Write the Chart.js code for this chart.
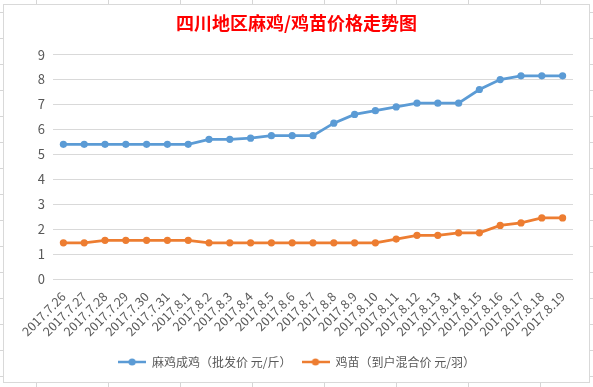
<!DOCTYPE html>
<html>
<head>
<meta charset="utf-8">
<script src="https://cdn.jsdelivr.net/npm/chart.js@4/dist/chart.umd.min.js"></script>
<style>
  html, body { margin: 0; padding: 0; width: 593px; height: 387px; overflow: hidden; }
  body {
    background-color: #fff;
    background-image: linear-gradient(to right, #d6d6d6 1px, transparent 1px),
                      linear-gradient(to bottom, #d6d6d6 1px, transparent 1px);
    background-size: 72px 100%, 100% 26px;
    background-position: 36px 0, 0 12px;
    position: relative;
  }
  #box { position: absolute; left: 3px; top: 4px; width: 585px; height: 377px;
         background: #fff; border: 1px solid #d9d9d9; }
  #wrap { position: absolute; left: 0; top: 0; width: 593px; height: 387px; }
</style>
</head>
<body>
<div id="box"></div>
<div id="wrap"><canvas id="c" width="593" height="387"></canvas></div>
<script>
const titleText = '四川地区麻鸡/鸡苗价格走势图';
const dates = ['2017.7.26','2017.7.27','2017.7.28','2017.7.29','2017.7.30','2017.7.31',
  '2017.8.1','2017.8.2','2017.8.3','2017.8.4','2017.8.5','2017.8.6','2017.8.7','2017.8.8',
  '2017.8.9','2017.8.10','2017.8.11','2017.8.12','2017.8.13','2017.8.14','2017.8.15',
  '2017.8.16','2017.8.17','2017.8.18','2017.8.19'];
const seriesNames = ['麻鸡成鸡（批发价 元/斤）', '鸡苗（到户混合价 元/羽）'];
const broilerPrice = [5.4,5.4,5.4,5.4,5.4,5.4,5.4,5.6,5.6,5.65,5.75,5.75,5.75,6.25,6.6,6.75,6.9,7.05,7.05,7.05,7.6,8.0,8.15,8.15,8.15];
const chickPrice = [1.45,1.45,1.55,1.55,1.55,1.55,1.55,1.45,1.45,1.45,1.45,1.45,1.45,1.45,1.45,1.45,1.6,1.75,1.75,1.85,1.85,2.15,2.25,2.45,2.45];
const yTicks = [0,1,2,3,4,5,6,7,8,9];

const BLUE = '#5B9BD5', ORANGE = '#ED7D31';
function legendIcon(color) {
  const cv = document.createElement('canvas');
  cv.width = 28; cv.height = 10;
  const g = cv.getContext('2d');
  g.strokeStyle = color; g.lineWidth = 2.5;
  g.beginPath(); g.moveTo(0, 5); g.lineTo(28, 5); g.stroke();
  g.fillStyle = color;
  g.beginPath(); g.arc(14, 5, 3.6, 0, Math.PI * 2); g.fill();
  return cv;
}
const FONT = "'Noto Sans CJK SC', 'Noto Sans', sans-serif";

new Chart(document.getElementById('c'), {
  type: 'line',
  data: {
    labels: dates,
    datasets: [
      { label: seriesNames[0], data: broilerPrice, borderColor: BLUE, backgroundColor: BLUE,
        borderWidth: 2.8, pointRadius: 3.6, pointHoverRadius: 3.6, pointBorderWidth: 0,
        pointStyle: 'circle', tension: 0 },
      { label: seriesNames[1], data: chickPrice, borderColor: ORANGE, backgroundColor: ORANGE,
        borderWidth: 2.8, pointRadius: 3.6, pointHoverRadius: 3.6, pointBorderWidth: 0,
        pointStyle: 'circle', tension: 0 }
    ]
  },
  options: {
    responsive: false,
    animation: false,
    devicePixelRatio: 1,
    layout: { padding: { left: 20, right: 20, top: 0, bottom: 9 } },
    plugins: {
      title: {
        display: true, text: titleText, color: '#FF0000',
        font: { family: FONT, size: 18, weight: 'bold' },
        padding: { top: 12, bottom: 21 }
      },
      legend: {
        position: 'bottom',
        labels: {
          color: '#595959', font: { family: FONT, size: 12 },
          usePointStyle: true, pointStyleWidth: 28, padding: 10,
          generateLabels(chart) {
            return chart.data.datasets.map((ds, i) => ({
              text: ds.label, fillStyle: ds.borderColor, strokeStyle: ds.borderColor,
              lineWidth: 0, pointStyle: legendIcon(ds.borderColor), hidden: false,
              datasetIndex: i, fontColor: '#595959'
            }));
          }
        }
      },
      tooltip: { enabled: false }
    },
    scales: {
      x: {
        offset: true,
        grid: { display: false }, border: { display: false },
        ticks: { color: '#595959', font: { family: FONT, size: 12.5 }, minRotation: 45, maxRotation: 45,
                 autoSkip: false, padding: 2 },
        afterFit(s) { s.height = 67; }
      },
      y: {
        min: 0, max: 9,
        afterBuildTicks(s) { s.ticks = yTicks.map(v => ({ value: v })); },
        grid: { color: '#d9d9d9', lineWidth: 1, drawTicks: false },
        border: { display: false },
        ticks: { color: '#595959', font: { family: FONT, size: 13 }, padding: 8 },
        afterFit(s) { s.width = 33; }
      }
    }
  }
});
</script>
</body>
</html>
